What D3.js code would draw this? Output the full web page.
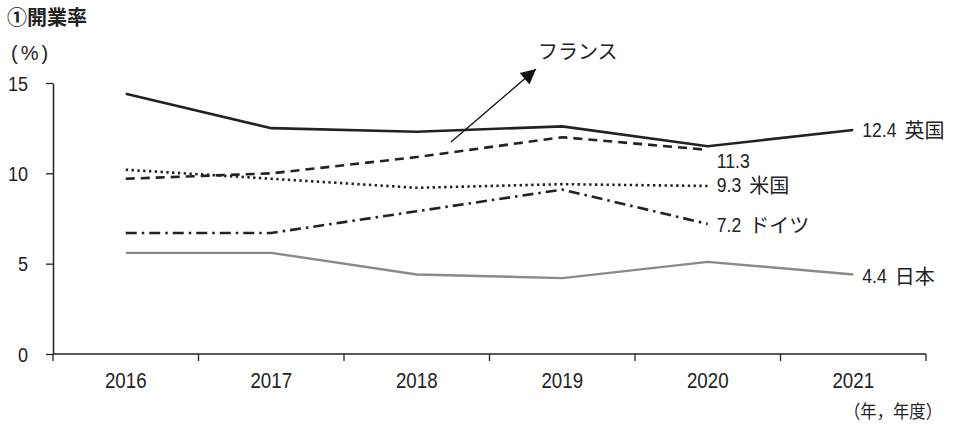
<!DOCTYPE html>
<html><head><meta charset="utf-8">
<script src="https://cdn.jsdelivr.net/npm/d3@7"></script>
<style>
body{margin:0;background:#fff;}
text{font-family:'Liberation Sans','Noto Sans CJK JP',sans-serif;fill:#222;}
.cjk{font-family:'Noto Sans CJK JP',sans-serif;}
</style></head>
<body><svg id="c" width="954" height="425"></svg>
<script>
const years = ["2016","2017","2018","2019","2020","2021"];
const yTicks = [0,5,10,15];
const uk      = [14.4,12.5,12.3,12.6,11.5,12.4];
const france  = [9.7,10.0,10.9,12.0,11.3];
const us      = [10.2,9.7,9.2,9.4,9.3];
const germany = [6.7,6.7,7.9,9.1,7.2];
const japan   = [5.6,5.6,4.4,4.2,5.1,4.4];
const endNums  = ["12.4","11.3","9.3","7.2","4.4"];
const endNames = ["英国","","米国","ドイツ","日本"];

const K = 0.88; // condensed digits
function condense(sel,k){
  sel.each(function(){
    const L=this.getComputedTextLength();
    d3.select(this).attr("textLength",L*k).attr("lengthAdjust","spacingAndGlyphs");
  });
}

const svg = d3.select("#c");
const x = d3.scaleBand().domain(years).range([53,926]);
const y = d3.scaleLinear().domain([0,15]).range([354,83]);
const cx = d => x(d) + x.bandwidth()/2;

// axes
const yAxis = svg.append("g").attr("transform","translate(53,0)")
  .call(d3.axisLeft(y).tickValues(yTicks).tickSize(7).tickSizeOuter(0));
const xAxis = svg.append("g").attr("transform","translate(0,354)")
  .call(d3.axisBottom(x).tickSize(0));
const bounds = years.map(d=>x(d)).concat([x.range()[1]]);
xAxis.selectAll("line.bt").data(bounds).enter().append("line")
  .attr("x1",d=>d).attr("x2",d=>d).attr("y1",0).attr("y2",7)
  .attr("stroke","#222").attr("stroke-width",1.3);
[yAxis,xAxis].forEach(g=>{
  g.select(".domain").attr("stroke","#222").attr("stroke-width",1.5);
  g.selectAll(".tick line").attr("stroke","#222").attr("stroke-width",1.3);
  g.selectAll("text").attr("fill","#222").style("font-family","'Liberation Sans',sans-serif");
});
xAxis.select(".domain").attr("d","M53,0H926");
yAxis.selectAll(".tick text").attr("x",-25).attr("dy",null).attr("y",7).style("font-size","20px").call(condense,0.9);
xAxis.selectAll(".tick text").attr("y",34).attr("dy",null).style("font-size","22px").call(condense,0.85);

// series
const line = d3.line().x((d,i)=>cx(years[i])).y(d=>y(d));
const series = [
  {v:japan, stroke:"#8a8a8a", dash:null, w:2.4},
  {v:germany, stroke:"#222", dash:"11,5,2.5,5", w:2.6},
  {v:us, stroke:"#222", dash:"2.4,3.4", w:2.6},
  {v:france, stroke:"#222", dash:"9,6", w:2.6},
  {v:uk, stroke:"#222", dash:null, w:2.6}
];
series.forEach(s=>{
  svg.append("path").datum(s.v).attr("d",line)
    .attr("fill","none").attr("stroke",s.stroke).attr("stroke-width",s.w)
    .attr("stroke-dasharray",s.dash);
});

// end labels
const lab = [
  {n:endNums[0], t:endNames[0], x:cx("2021")+9, y:y(uk[5])},
  {n:endNums[1], t:endNames[1], x:cx("2020")+9, y:y(france[4])+11},
  {n:endNums[2], t:endNames[2], x:cx("2020")+9, y:y(us[4])-1},
  {n:endNums[3], t:endNames[3], x:cx("2020")+9, y:y(germany[4])+1},
  {n:endNums[4], t:endNames[4], x:cx("2021")+9, y:y(japan[5])+1}
];
lab.forEach(d=>{
  const num = svg.append("text").attr("x",d.x).attr("y",d.y+7.3)
    .style("font-size","20px").style("font-family","'Liberation Sans',sans-serif").text(d.n);
  const L = num.node().getComputedTextLength()*K;
  num.attr("textLength",L).attr("lengthAdjust","spacingAndGlyphs");
  if(d.t) svg.append("text").attr("class","cjk").attr("x",d.x+L+8).attr("y",d.y+8)
    .style("font-size","20px").text(d.t);
});

// arrow annotation for France
svg.append("defs").append("marker").attr("id","ah")
  .attr("viewBox","0 0 10 10").attr("refX",10).attr("refY",5)
  .attr("markerUnits","userSpaceOnUse")
  .attr("markerWidth",20).attr("markerHeight",15).attr("orient","auto")
  .append("path").attr("d","M0,0L10,5L0,10Z").attr("fill","#111");
svg.append("line").attr("x1",451).attr("y1",142).attr("x2",536).attr("y2",69)
  .attr("stroke","#111").attr("stroke-width",1.3).attr("marker-end","url(#ah)");
svg.append("text").attr("class","cjk").attr("x",538).attr("y",59).style("font-size","20px").text("フランス");

// titles
svg.append("text").attr("class","cjk").attr("x",7).attr("y",25).style("font-size","20px").style("font-weight","bold").text("①開業率");
svg.append("text").attr("x",11).attr("y",60).style("font-size","20px")
  .style("font-family","'Liberation Sans',sans-serif").style("letter-spacing","3px").text("(%)");
svg.append("text").attr("class","cjk").attr("x",942).attr("y",418).attr("text-anchor","end")
  .style("font-size","18px").attr("textLength",98).attr("lengthAdjust","spacingAndGlyphs").text("（年，年度）");
</script></body></html>
